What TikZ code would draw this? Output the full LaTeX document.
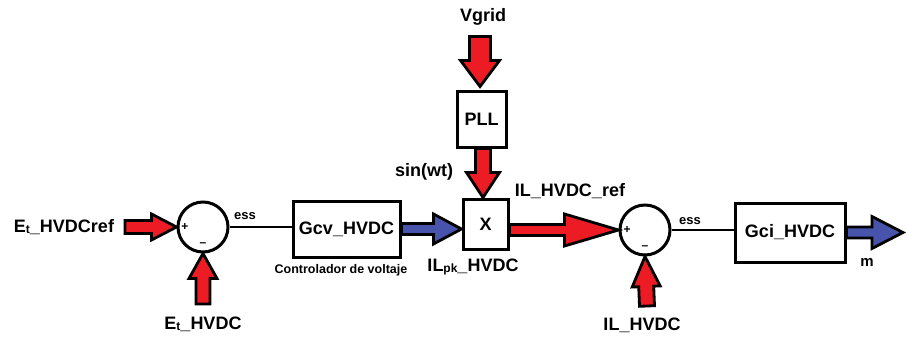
\documentclass[tikz,border=0pt]{standalone}
\usepackage{fontspec}
\setmainfont{Liberation Sans}
\usetikzlibrary{calc}
\definecolor{arrred}{RGB}{237,28,36}
\definecolor{arrblue}{RGB}{72,84,172}
\newcommand{\smallsub}[1]{{\fontsize{12}{12}\selectfont\raisebox{-1pt}{#1}}}
\newcommand{\blockarr}[6]{%
  \coordinate (bh) at ($(#3)!#6!(#2)$);
  \draw[blockarrow, fill=#1] ($(#2)!#4!90:(#3)$) -- ($(bh)!#4!-90:(#2)$) -- ($(bh)!#5!-90:(#2)$) -- (#3) -- ($(bh)!#5!90:(#2)$) -- ($(bh)!#4!90:(#2)$) -- ($(#2)!#4!-90:(#3)$) -- cycle;
}
\tikzset{
  blockarrow/.style={draw=black, line width=2.8pt, line join=miter},
  blk/.style={draw, line width=3pt, rectangle, inner sep=0pt, fill=white, font=\fontsize{18}{20}\selectfont\bfseries},
  summer/.style={draw, circle, line width=3pt, minimum size=50pt, inner sep=0pt, fill=white},
  lbl/.style={font=\fontsize{18}{20}\selectfont\bfseries, inner sep=0pt},
  slbl/.style={font=\fontsize{13}{14}\selectfont\bfseries, inner sep=0pt},
  sign/.style={font=\fontsize{12}{12}\selectfont\bfseries, inner sep=0pt},
  wire/.style={line width=2.6pt}
}
\begin{document}
\begin{tikzpicture}[x=1pt,y=-1pt]
\fill[white] (0,0) rectangle (906,340);
\useasboundingbox (0,0) rectangle (906,340);

% blocks
\node[summer] (sum1) at (203,227) {};
\node[summer] (sum2) at (645,230) {};
\node[blk, minimum width=107pt, minimum height=56pt] (gcv) at (346.5,229) {Gcv\_HVDC};
\node[blk, minimum width=45pt, minimum height=50pt] (xbox) at (485.5,224) {X};
\node[blk, minimum width=49pt, minimum height=56pt] (pll) at (481.5,119) {PLL};
\node[blk, minimum width=110pt, minimum height=59pt] (gci) at (790,232.5) {Gci\_HVDC};

% signs
\node[sign] (p1) at (185,227) {+};
\node[sign] (m1) at (203,245) {--};
\node[sign] (p2) at (627,230) {+};
\node[sign] (m2) at (645,248) {--};

% labels
\node[lbl] (tref) at (64,227) {E\smallsub{t}\_HVDCref};
\node[lbl] (tmeas) at (203,324) {E\smallsub{t}\_HVDC};
\node[slbl] (ess1) at (245,216) {ess};
\node[slbl] (ess2) at (690,221) {ess};
\node[font=\fontsize{12.5}{13}\selectfont\bfseries, inner sep=0pt] (ctrl) at (341,270) {Controlador de voltaje};
\node[lbl] (ilpk) at (473,267) {IL\smallsub{pk}\_HVDC};
\node[lbl] (ilref) at (570,191) {IL\_HVDC\_ref};
\node[lbl] (vgrid) at (483,17) {Vgrid};
\node[lbl] (sinwt) at (424,172) {sin(wt)};
\node[lbl] (ilm) at (642,325) {IL\_HVDC};
\node[slbl, font=\fontsize{15}{16}\selectfont\bfseries] (mout) at (867,262) {m};

% free ends
\coordinate (inL) at (125,227);
\coordinate (inB1) at (203,304);
\coordinate (inB2) at (647,306);
\coordinate (vin) at (480,36.5);
\coordinate (outm) at (903,232.5);

% wires
\draw[wire] (sum1.east) -- (gcv.west |- sum1.east);
\draw[wire] (sum2.east) -- (gci.west |- sum2.east);

% block arrows
\blockarr{arrred}{inL}{sum1.west}{6.5pt}{13pt}{25pt}
\blockarr{arrred}{inB1}{sum1.south}{7pt}{14pt}{25pt}
\blockarr{arrblue}{gcv.east}{xbox.west |- gcv.east}{5.5pt}{15pt}{28pt}
\coordinate (xout) at (xbox.east |- sum2.west);
\blockarr{arrred}{xout}{sum2.west}{5.5pt}{16pt}{54pt}
\coordinate (vtip) at ($(pll.north -| vin)+(0,-3)$);
\blockarr{arrred}{vin}{vtip}{10.5pt}{19.5pt}{26pt}
\coordinate (pllout) at ($(pll.south)+(1.5,0)$);
\coordinate (xin) at (pllout |- xbox.north);
\blockarr{arrred}{pllout}{xin}{7.5pt}{16.5pt}{25pt}
\blockarr{arrred}{inB2}{sum2.south}{7.5pt}{14pt}{30pt}
\blockarr{arrblue}{gci.east}{outm}{5.5pt}{16pt}{31pt}
\end{tikzpicture}
\end{document}
